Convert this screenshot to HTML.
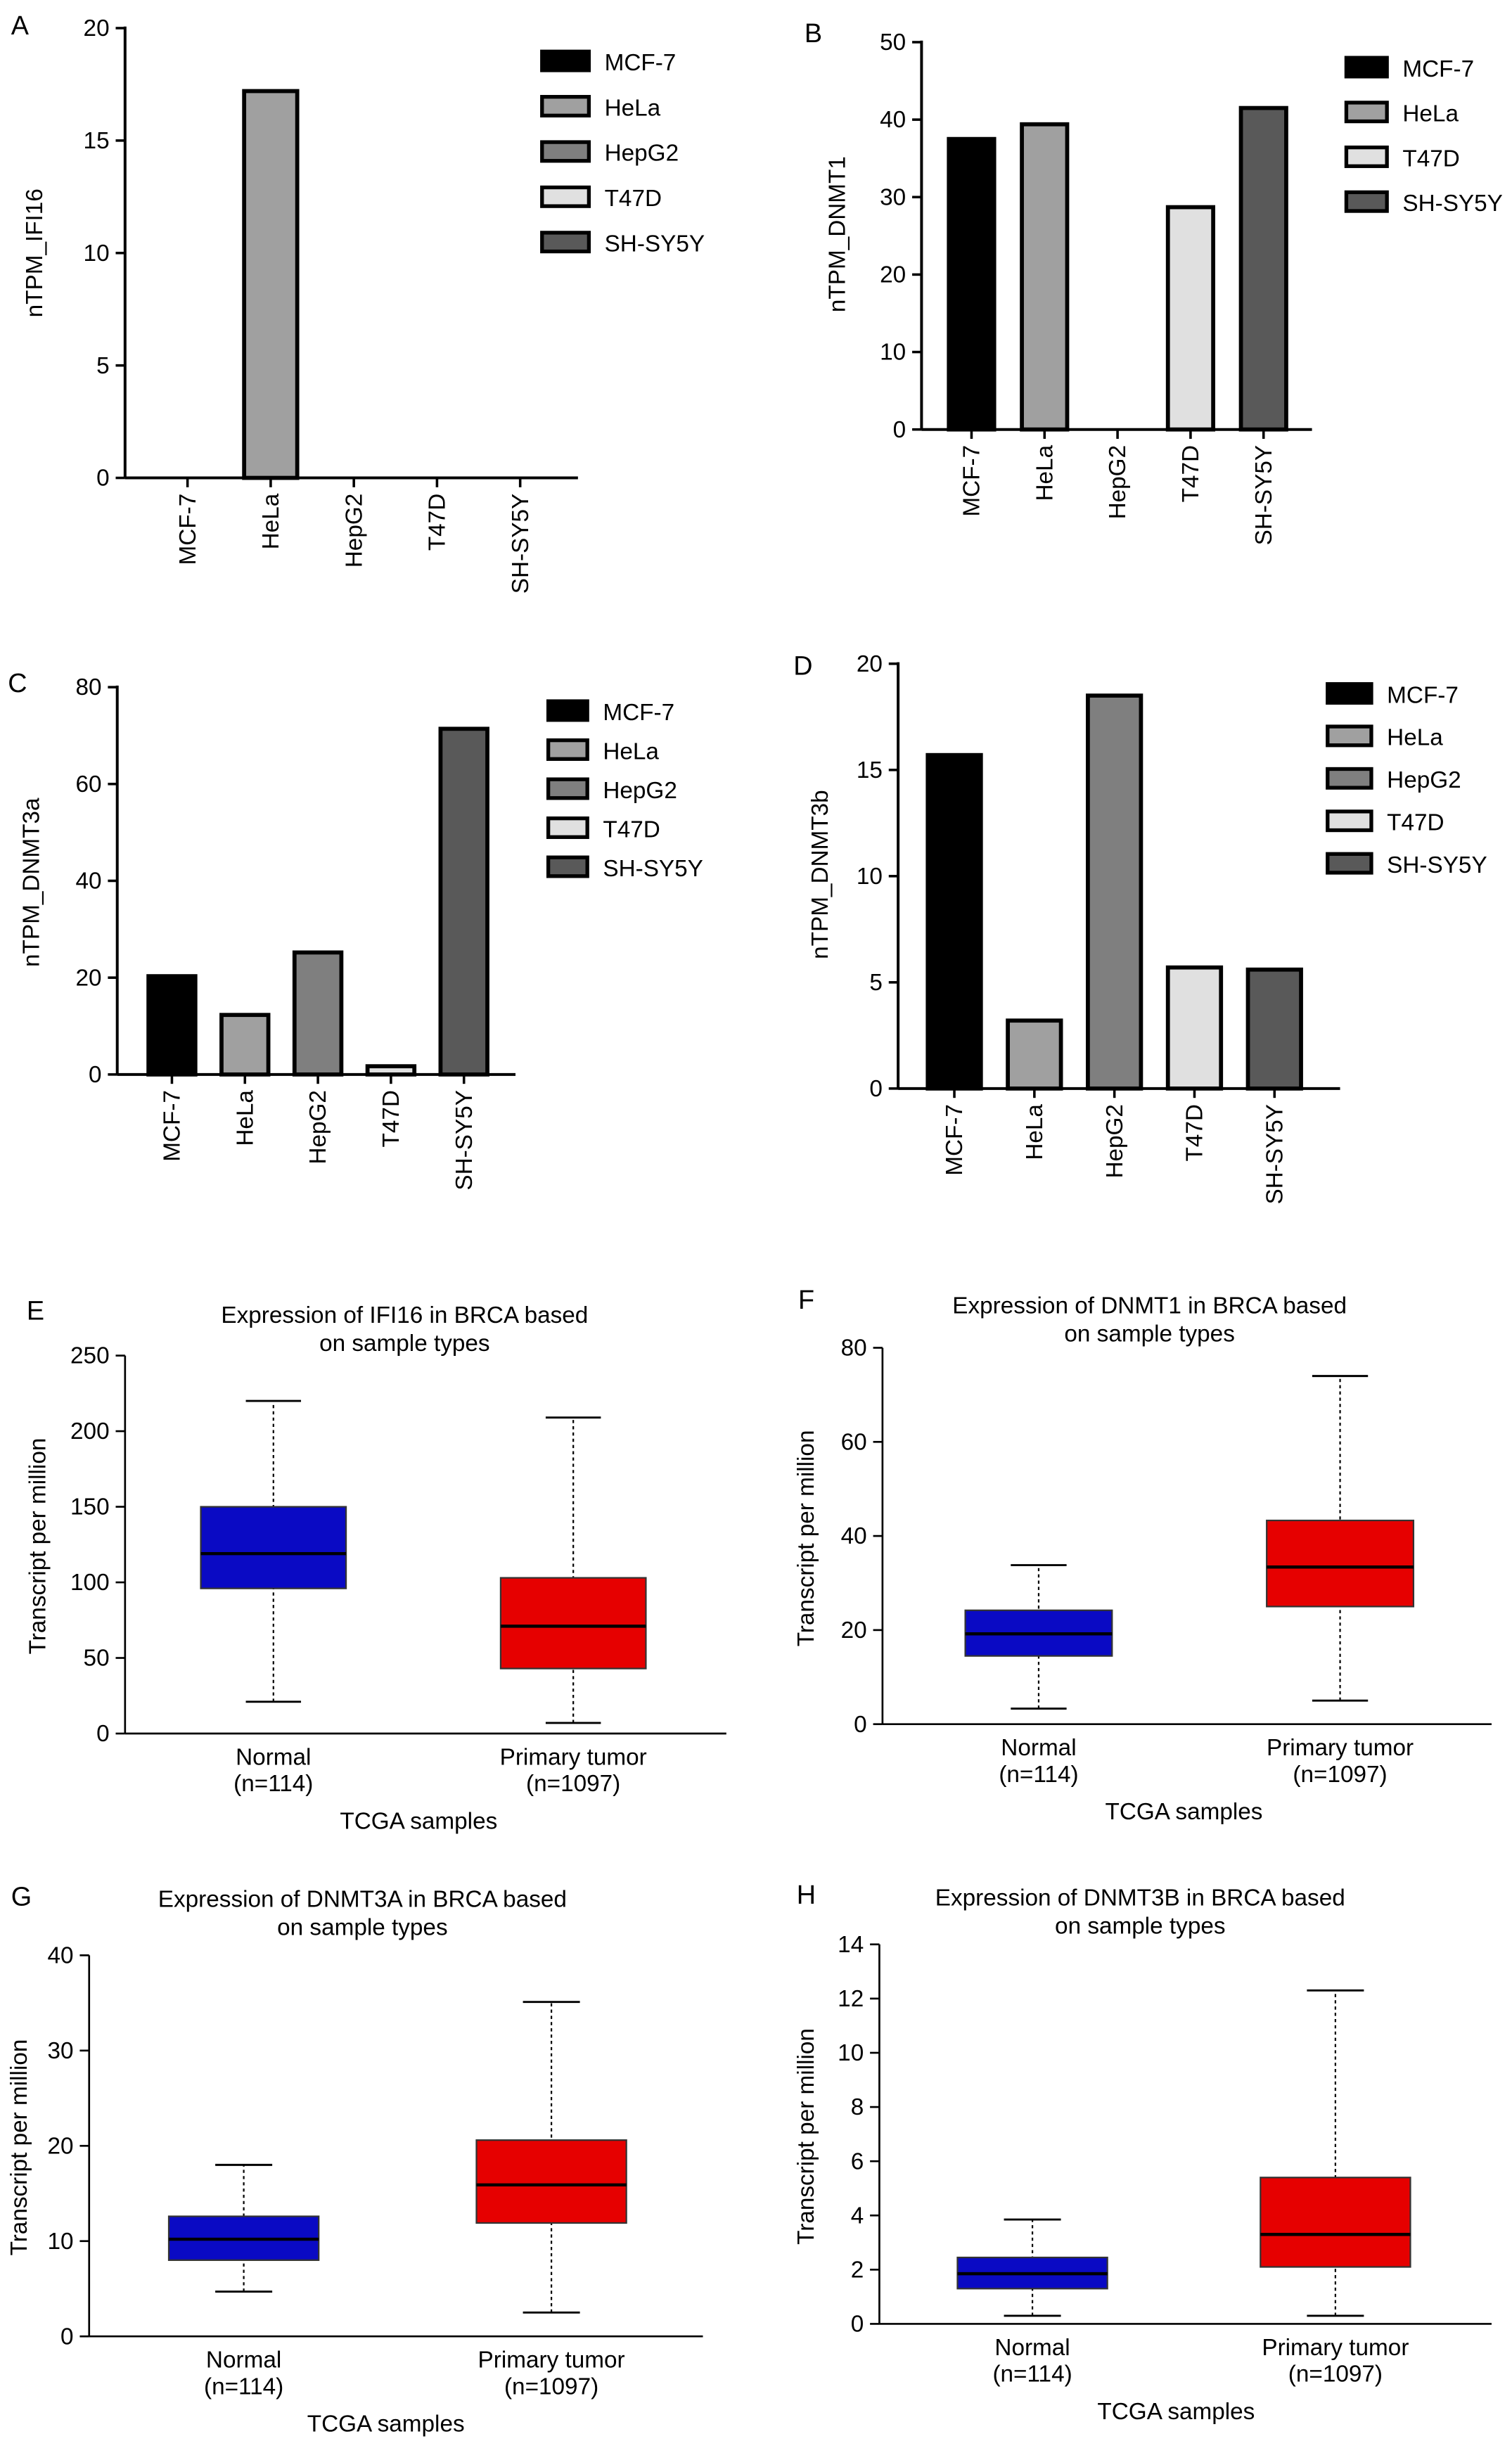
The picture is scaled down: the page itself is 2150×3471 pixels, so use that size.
<!DOCTYPE html>
<html><head><meta charset="utf-8"><style>
html,body{margin:0;padding:0;background:#fff}
svg{display:block;font-family:"Liberation Sans",sans-serif}
</style></head><body>
<svg id="fig" width="2150" height="3471" viewBox="0 0 968 1563" xmlns="http://www.w3.org/2000/svg"></svg>
<script>
const cellLines = ["MCF-7","HeLa","HepG2","T47D","SH-SY5Y"];
const cellColors = ["#000000","#a0a0a0","#7f7f7f","#e0e0e0","#595959"];
const valsIFI16 = [0,17.2,0,0,0];
const valsDNMT1 = [37.5,39.4,0,28.7,41.5];
const valsDNMT3a = [20.3,12.3,25.2,1.7,71.4];
const valsDNMT3b = [15.7,3.2,18.5,5.7,5.6];
const ticksA = [0,5,10,15,20];
const ticksB = [0,10,20,30,40,50];
const ticksC = [0,20,40,60,80];
const ticksD = [0,5,10,15,20];
const groups = ["Normal","Primary tumor"];
const groupN = ["(n=114)","(n=1097)"];
const boxColors = ["#0a0ac4","#e60000"];
// [min,q1,median,q3,max]
const boxIFI16 = [[21,96,119,150,220],[7,43,71,103,209]];
const boxDNMT1 = [[3.3,14.5,19.2,24.2,33.8],[5,25,33.4,43.3,74]];
const boxDNMT3A = [[4.7,8,10.2,12.6,18],[2.5,11.9,15.9,20.6,35.1]];
const boxDNMT3B = [[0.3,1.3,1.85,2.45,3.85],[0.3,2.1,3.3,5.4,12.3]];
const ticksE = [0,50,100,150,200,250];
const ticksF = [0,20,40,60,80];
const ticksG = [0,10,20,30,40];
const ticksH = [0,2,4,6,8,10,12,14];

const NS="http://www.w3.org/2000/svg";
const svg=document.getElementById('fig');
function el(tag,attrs,parent,text){const e=document.createElementNS(NS,tag);for(const k in attrs)e.setAttribute(k,attrs[k]);if(text!==undefined)e.textContent=text;(parent||svg).appendChild(e);return e;}

function barPanel(o){
  const g=el('g',{});
  
  
  const max=o.ticks[o.ticks.length-1];
  const y=v=>o.y0-(v/max)*(o.y0-o.y1);
  const lt=el('text',{x:o.lx,y:o.ly,'font-size':17},g,o.letter);
  
  
  o.ticks.forEach(t=>{
    el('line',{x1:o.ax-6,x2:o.ax,y1:y(t),y2:y(t),stroke:'#000','stroke-width':1.6},g);
    const tx=el('text',{x:o.ax-10,y:y(t)+5,'font-size':15,'text-anchor':'end'},g,t);
    
    
  });
  el('line',{x1:o.ax,x2:o.ax,y1:o.y1-1,y2:o.y0,stroke:'#000','stroke-width':1.8},g);
  el('line',{x1:o.ax,x2:o.axEnd,y1:o.y0,y2:o.y0,stroke:'#000','stroke-width':1.8},g);
  const n=cellLines.length;
  const step=(o.c1-o.c0)/(n-1);
  o.vals.forEach((v,i)=>{
    const cx=o.c0+i*step;
    if(v>0){
      const r=el('rect',{x:cx-o.bw/2,y:y(v),width:o.bw,height:o.y0-y(v),fill:cellColors[i],stroke:'#000','stroke-width':2.6},g);
      
      
    }
    el('line',{x1:cx,x2:cx,y1:o.y0,y2:o.y0+6,stroke:'#000','stroke-width':1.6},g);
    const t=el('text',{x:0,y:0,'font-size':15,'text-anchor':'end',transform:`translate(${cx+5},${o.y0+10}) rotate(-90)`},g,cellLines[i]);
    
    
  });
  const yt=el('text',{x:0,y:0,'font-size':15,'text-anchor':'middle',transform:`translate(${o.tx},${o.ty}) rotate(-90)`},g,o.title);
  
  
  o.legendLines.forEach((li,k)=>{
    const ly=o.legRows[0]+k*o.legStep;
    const lg=el('g',{},g);
    
    
    el('rect',{x:o.legX,y:ly-6,width:o.legW,height:12,fill:cellColors[li],stroke:'#000','stroke-width':2.4},lg);
    el('text',{x:o.legX+o.legW+10,y:ly+6,'font-size':15},lg,cellLines[li]);
  });
}

barPanel({letter:'A',lx:7,ly:22,ax:80,axEnd:370,y0:306,y1:18,ticks:ticksA,vals:valsIFI16,c0:120,c1:333,bw:34,tx:27,ty:162,title:'nTPM_IFI16',legendLines:[0,1,2,3,4],legRows:[39],legStep:29,legX:347,legW:30});
barPanel({letter:'B',lx:515,ly:27,ax:590,axEnd:840,y0:275,y1:27,ticks:ticksB,vals:valsDNMT1,c0:622,c1:809,bw:29,tx:541,ty:150,title:'nTPM_DNMT1',legendLines:[0,1,3,4],legRows:[43],legStep:28.7,legX:862,legW:26});
barPanel({letter:'C',lx:5,ly:443,ax:75,axEnd:330,y0:688,y1:440,ticks:ticksC,vals:valsDNMT3a,c0:110,c1:297,bw:30,tx:25,ty:565,title:'nTPM_DNMT3a',legendLines:[0,1,2,3,4],legRows:[455],legStep:25,legX:351,legW:25});
barPanel({letter:'D',lx:508,ly:432,ax:575,axEnd:858,y0:697,y1:425,ticks:ticksD,vals:valsDNMT3b,c0:611,c1:816,bw:34,tx:530,ty:560,title:'nTPM_DNMT3b',legendLines:[0,1,2,3,4],legRows:[444],legStep:27.2,legX:850,legW:28});

function boxPanel(o){
  const g=el('g',{});
  
  
  const max=o.ticks[o.ticks.length-1];
  const y=v=>o.y0-(v/max)*(o.y0-o.y1);
  const lt=el('text',{x:o.lx,y:o.ly,'font-size':17},g,o.letter);
  
  
  const t1=el('text',{x:o.tcx,y:o.ty,'font-size':15,'text-anchor':'middle'},g,'Expression of '+o.gene+' in BRCA based');
  
  
  el('text',{x:o.tcx,y:o.ty+18,'font-size':15,'text-anchor':'middle'},g,'on sample types');
  o.ticks.forEach(t=>{
    el('line',{x1:o.ax-6,x2:o.ax,y1:y(t),y2:y(t),stroke:'#000','stroke-width':1.2},g);
    const tx=el('text',{x:o.ax-10,y:y(t)+5,'font-size':15,'text-anchor':'end'},g,t);
    
    
  });
  el('line',{x1:o.ax,x2:o.ax,y1:o.y1,y2:o.y0,stroke:'#000','stroke-width':1.2},g);
  el('line',{x1:o.ax,x2:o.axEnd,y1:o.y0,y2:o.y0,stroke:'#000','stroke-width':1.2},g);
  o.data.forEach((d,i)=>{
    const cx=o.cx[i], hw=o.bw/2;
    const bg=el('g',{},g);
    
    
    el('line',{x1:cx,x2:cx,y1:y(d[0]),y2:y(d[4]),stroke:'#000','stroke-width':1,'stroke-dasharray':'2,2'},bg);
    el('line',{x1:cx-hw*0.38,x2:cx+hw*0.38,y1:y(d[0]),y2:y(d[0]),stroke:'#000','stroke-width':1.3},bg);
    el('line',{x1:cx-hw*0.38,x2:cx+hw*0.38,y1:y(d[4]),y2:y(d[4]),stroke:'#000','stroke-width':1.3},bg);
    el('rect',{x:cx-hw,y:y(d[3]),width:o.bw,height:y(d[1])-y(d[3]),fill:boxColors[i],stroke:'#333','stroke-width':1},bg);
    el('line',{x1:cx-hw,x2:cx+hw,y1:y(d[2]),y2:y(d[2]),stroke:'#000','stroke-width':2},bg);
    const xl=el('text',{x:cx,y:o.y0+20,'font-size':15,'text-anchor':'middle'},g,groups[i]);
    
    
    el('text',{x:cx,y:o.y0+37,'font-size':15,'text-anchor':'middle'},g,groupN[i]);
  });
  const xt=el('text',{x:o.xtx,y:o.y0+61,'font-size':15,'text-anchor':'middle'},g,'TCGA samples');
  
  
  const yt=el('text',{x:0,y:0,'font-size':15,'text-anchor':'middle',transform:`translate(${o.ytx},${o.yty}) rotate(-90)`},g,'Transcript per million');
  
  
}

boxPanel({letter:'E',lx:17,ly:845,gene:'IFI16',tcx:259,ty:847,ax:80,axEnd:465,y0:1110,y1:868,ticks:ticksE,data:boxIFI16,cx:[175,367],bw:93,xtx:268,ytx:29,yty:990});
boxPanel({letter:'F',lx:511,ly:838,gene:'DNMT1',tcx:736,ty:841,ax:565,axEnd:955,y0:1104,y1:863,ticks:ticksF,data:boxDNMT1,cx:[665,858],bw:94,xtx:758,ytx:521,yty:985});
boxPanel({letter:'G',lx:7,ly:1220,gene:'DNMT3A',tcx:232,ty:1221,ax:57,axEnd:450,y0:1496,y1:1252,ticks:ticksG,data:boxDNMT3A,cx:[156,353],bw:96,xtx:247,ytx:17,yty:1375});
boxPanel({letter:'H',lx:510,ly:1219,gene:'DNMT3B',tcx:730,ty:1220,ax:563,axEnd:955,y0:1488,y1:1245,ticks:ticksH,data:boxDNMT3B,cx:[661,855],bw:96,xtx:753,ytx:521,yty:1368});
</script>
</body></html>
